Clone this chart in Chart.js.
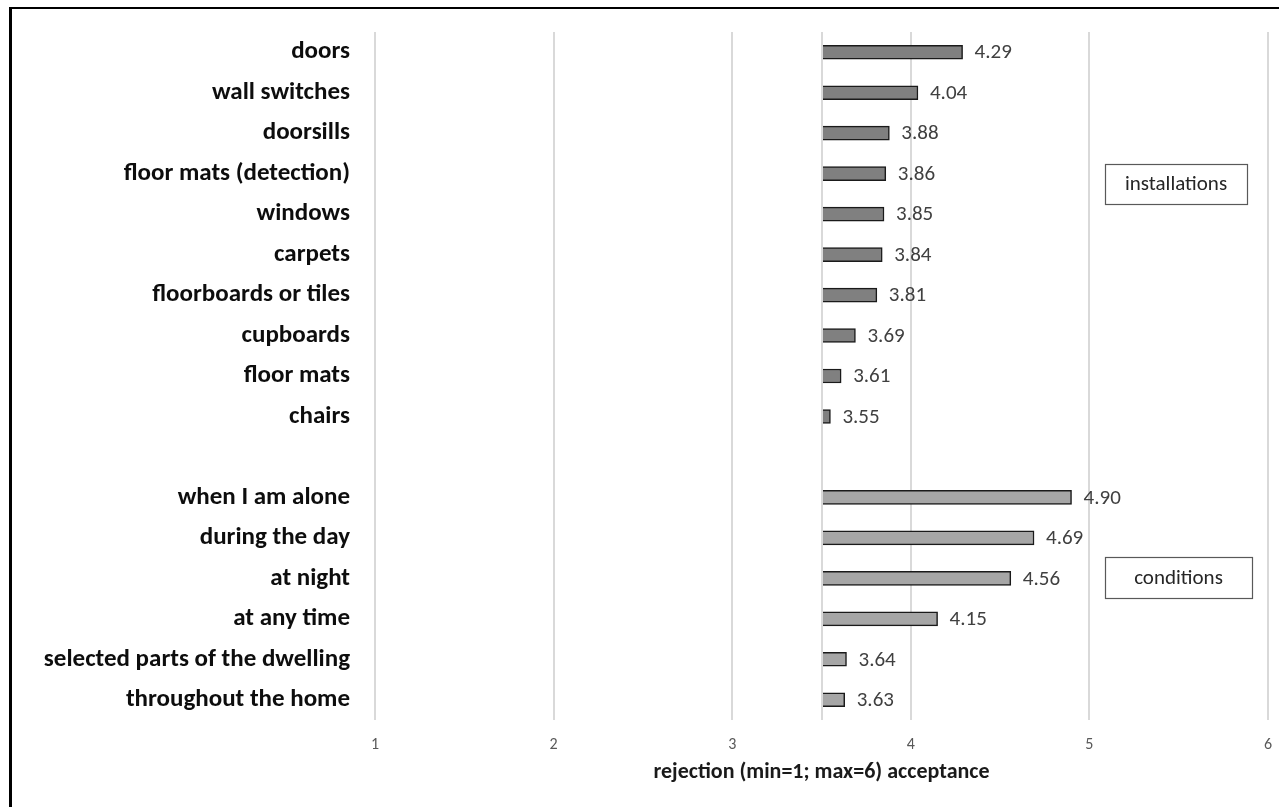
<!DOCTYPE html>
<html>
<head>
<meta charset="utf-8">
<script src="https://cdn.jsdelivr.net/npm/chart.js@4.4.1/dist/chart.umd.min.js"></script>
<style>
  html, body { margin: 0; padding: 0; background: #ffffff; }
  #wrap { width: 1279px; height: 807px; position: relative; }
</style>
</head>
<body>
<div id="wrap"><canvas id="chart" width="1279" height="807"></canvas></div>
<script>
// Mean ratings on the rejection (1) … acceptance (6) scale
const installationItems = ['doors', 'wall switches', 'doorsills', 'floor mats (detection)', 'windows',
  'carpets', 'floorboards or tiles', 'cupboards', 'floor mats', 'chairs'];
const installationValues = [4.29, 4.04, 3.88, 3.86, 3.85, 3.84, 3.81, 3.69, 3.61, 3.55];

const conditionItems = ['when I am alone', 'during the day', 'at night', 'at any time',
  'selected parts of the dwelling', 'throughout the home'];
const conditionValues = [4.90, 4.69, 4.56, 4.15, 3.64, 3.63];

const groupNames = ['installations', 'conditions'];
const axisTicks = [1, 2, 3, 4, 5, 6];
const axisTitle = 'rejection (min=1; max=6) acceptance';
const barBase = 3.5;

// one blank row separates the two groups
const categories = [...installationItems, '', ...conditionItems];
const values = [...installationValues, null, ...conditionValues];
const groupOf = [...installationItems.map(() => 0), -1, ...conditionItems.map(() => 1)];

const FONT = 'Carlito, Calibri, Lato, sans-serif';
const fills = ['#808080', '#a6a6a6'];

const barData = values.map(v => (v === null ? null : [barBase, v]));

// value labels, the axis line at the bar base, group boxes and frame
const decorations = {
  id: 'decorations',
  afterDatasetsDraw(chart) {
    const { ctx, chartArea, scales } = chart;
    const xb = Math.round(scales.x.getPixelForValue(barBase));
    ctx.save();
    ctx.strokeStyle = '#d9d9d9';
    ctx.lineWidth = 2;
    ctx.beginPath();
    ctx.moveTo(xb, chartArea.top);
    ctx.lineTo(xb, chartArea.bottom);
    ctx.stroke();

    const meta = chart.getDatasetMeta(0);
    ctx.fillStyle = '#404040';
    ctx.font = '21px ' + FONT;
    ctx.textAlign = 'left';
    ctx.textBaseline = 'middle';
    meta.data.forEach((el, i) => {
      if (values[i] === null) return;
      ctx.fillText(values[i].toFixed(2), scales.x.getPixelForValue(values[i]) + 12, el.y + 1);
    });

    // group boxes beside the bars
    const boxes = [
      { text: groupNames[0], x: 1105, y: 164, w: 142, h: 40 },
      { text: groupNames[1], x: 1105, y: 557, w: 147, h: 41 }
    ];
    ctx.font = '21px ' + FONT;
    ctx.textAlign = 'center';
    boxes.forEach(b => {
      ctx.fillStyle = '#ffffff';
      ctx.fillRect(b.x, b.y, b.w, b.h);
      ctx.strokeStyle = '#595959';
      ctx.lineWidth = 1.2;
      ctx.strokeRect(b.x + 0.5, b.y + 0.5, b.w, b.h);
      ctx.fillStyle = '#262626';
      ctx.fillText(b.text, b.x + b.w / 2, b.y + b.h / 2 + 1);
    });
    ctx.restore();
  },
  afterDraw(chart) {
    const { ctx, width, height } = chart;
    ctx.save();
    ctx.strokeStyle = '#000000';
    ctx.lineWidth = 2;
    ctx.beginPath();
    ctx.moveTo(9, 8);
    ctx.lineTo(width, 8);
    ctx.stroke();
    ctx.lineWidth = 3;
    ctx.beginPath();
    ctx.moveTo(10.5, 7);
    ctx.lineTo(10.5, height);
    ctx.stroke();
    ctx.restore();
  }
};

new Chart(document.getElementById('chart'), {
  type: 'bar',
  data: {
    labels: categories,
    datasets: [{
      data: barData,
      backgroundColor: groupOf.map(g => fills[Math.max(g, 0)]),
      borderColor: '#1a1a1a',
      borderWidth: 1.5,
      borderSkipped: 'start',
      barThickness: 14
    }]
  },
  options: {
    indexAxis: 'y',
    responsive: false,
    animation: false,
    layout: { padding: { top: 32, right: 11, left: 0, bottom: 0 } },
    plugins: { legend: { display: false }, tooltip: { enabled: false } },
    scales: {
      x: {
        type: 'linear',
        min: axisTicks[0],
        max: axisTicks[axisTicks.length - 1],
        afterBuildTicks: scale => { scale.ticks = axisTicks.map(v => ({ value: v })); },
        afterFit: scale => { scale.height = 87; scale.paddingLeft = 0; scale.paddingRight = 0; },
        grid: { color: '#d9d9d9', lineWidth: 2, drawTicks: false },
        border: { display: false },
        ticks: { color: '#595959', font: { family: FONT, size: 16 }, padding: 15 },
        title: {
          display: true,
          text: axisTitle,
          color: '#1a1a1a',
          font: { family: FONT, size: 22, weight: 'bold' },
          padding: { top: 0, bottom: 21 }
        }
      },
      y: {
        type: 'category',
        afterFit: scale => { scale.width = 375; scale.paddingTop = 0; scale.paddingBottom = 0; },
        grid: { display: false, drawTicks: false },
        border: { display: false },
        ticks: { color: '#0d0d0d', font: { family: FONT, size: 25, weight: 'bold' }, padding: 25 }
      }
    }
  },
  plugins: [decorations]
});
</script>
</body>
</html>
